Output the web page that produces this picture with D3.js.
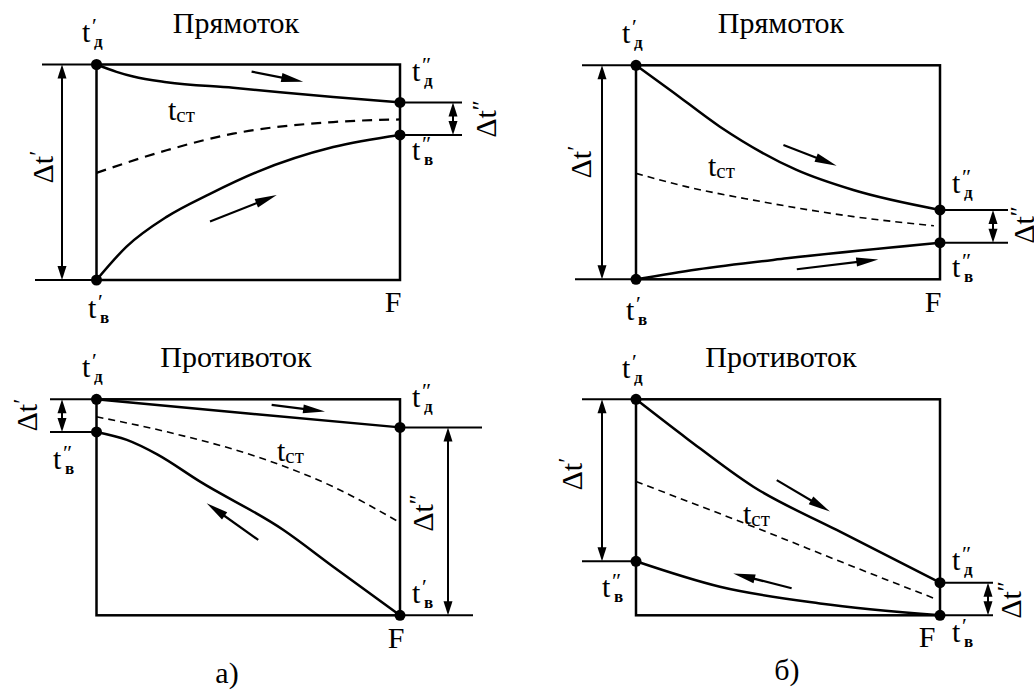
<!DOCTYPE html>
<html><head><meta charset="utf-8">
<script src="https://cdn.jsdelivr.net/npm/d3@7"></script>
</head><body>
<script>
// ---------- DATA (x = fraction of surface F, value = temperature on 0..100 scale) ----------
const panelIds = ["aTop", "bTop", "aBot", "bBot"];
const titles = ["Прямоток", "Прямоток", "Противоток", "Противоток"];
const captions = ["а)", "б)"];

// a) co-current
const aTopHotX  = [0, 0.066, 0.121, 0.231, 0.45, 0.78, 1];
const aTopHotV  = [100, 96.6, 94.4, 91.8, 89.2, 84.9, 82.4];
const aTopColdX = [0, 0.099, 0.231, 0.374, 0.528, 0.78, 1];
const aTopColdV = [0, 15.5, 29.3, 40, 50.1, 61.7, 67.3];
const aTopWallX = [0, 0.231, 0.45, 0.78, 1];
const aTopWallV = [49.7, 60.2, 67.9, 73.3, 74.5];
// б) co-current
const bTopHotX  = [0, 0.112, 0.276, 0.528, 0.715, 1];
const bTopHotV  = [100, 88.5, 71.3, 51.1, 41.7, 32.4];
const bTopColdX = [0, 0.2, 0.496, 1];
const bTopColdV = [0, 4.6, 9.8, 17.1];
const bTopWallX = [0, 0.165, 0.386, 0.715, 0.98];
const bTopWallV = [49.5, 43.3, 37, 29.3, 25];
// a) counter-current
const aBotHotX  = [0, 0.5, 1];
const aBotHotV  = [100, 93.4, 87];
const aBotColdX = [0, 0.1, 0.2, 0.34, 0.616, 0.78, 1];
const aBotColdV = [84.9, 81.2, 74.5, 62, 39.5, 22.5, 0];
const aBotWallX = [0, 0.23, 0.56, 0.78, 1];
const aBotWallV = [91.9, 85, 71.9, 59.5, 42.9];
// б) counter-current
const bBotHotX  = [0, 0.167, 0.386, 0.66, 1];
const bBotHotV  = [100, 81.9, 59.5, 39.5, 15.1];
const bBotColdX = [0, 0.276, 0.605, 1];
const bBotColdV = [25, 13.2, 5.5, 0];
const bBotWallX = [0, 0.386, 0.715, 0.98];
const bBotWallV = [61.9, 41, 22.5, 7.9];

const curves = {
  aTop: {hot:[aTopHotX,aTopHotV], cold:[aTopColdX,aTopColdV], wall:[aTopWallX,aTopWallV]},
  bTop: {hot:[bTopHotX,bTopHotV], cold:[bTopColdX,bTopColdV], wall:[bTopWallX,bTopWallV]},
  aBot: {hot:[aBotHotX,aBotHotV], cold:[aBotColdX,aBotColdV], wall:[aBotWallX,aBotWallV]},
  bBot: {hot:[bBotHotX,bBotHotV], cold:[bBotColdX,bBotColdV], wall:[bBotWallX,bBotWallV]}
};
// flow direction arrows [x0,v0,x1,v1]
const flowArrows = {
  aTop: [[0.511,96.7,0.681,92.0],[0.374,27.1,0.594,39.4]],
  bTop: [[0.485,62.8,0.66,53.1],[0.529,4.7,0.797,9.3]],
  aBot: [[0.577,97.4,0.753,94.3],[0.533,34.9,0.363,51.9]],
  bBot: [[0.463,62.6,0.638,48.0],[0.512,12.5,0.32,19.4]]
};

// ---------- LAYOUT ----------
const W = 1034, H = 691;
const FONT = "Liberation Serif";
const boxes = {
  aTop: {l:96.5, r:400, t:64.5, b:280},
  bTop: {l:636,  r:940, t:65.3, b:279.3},
  aBot: {l:96.5, r:400, t:399.3, b:615.3},
  bBot: {l:636,  r:940, t:399.3, b:615.3}
};

d3.select("body").style("margin", "0px").style("background", "#fff");
const svg = d3.select("body").append("svg").attr("width", W).attr("height", H).style("display", "block");
svg.append("rect").attr("width", W).attr("height", H).attr("fill", "#fff");

function txt(g, x, y, size) {
  return g.append("text").attr("x", x).attr("y", y).attr("font-family", FONT)
    .style("font-family", "'Liberation Serif'").attr("font-size", size);
}
function head(g, x1, y1, x0, y0, len, hw) {
  const a = Math.atan2(y1 - y0, x1 - x0);
  const bx = x1 - len * Math.cos(a), by = y1 - len * Math.sin(a);
  const px = -Math.sin(a) * hw, py = Math.cos(a) * hw;
  g.append("path").attr("d", `M${x1},${y1}L${bx+px},${by+py}L${bx-px},${by-py}Z`).attr("fill", "#000");
}
function dimArrow(g, x, y0, y1) {
  g.append("line").attr("x1", x).attr("x2", x).attr("y1", y0 + 4).attr("y2", y1 - 4)
    .attr("stroke", "#000").attr("stroke-width", 2);
  head(g, x, y0, x, y1, 14, 4.5);
  head(g, x, y1, x, y0, 14, 4.5);
}
function tLabel(g, x, y, prime, sub) {
  txt(g, x, y, 30).text("t");
  txt(g, x + 10, y - 9, 22).text(prime);
  txt(g, x + 12, y + 5, 17).attr("font-weight", "bold").text(sub);
}
function dtLabel(g, cx, cy, prime) {
  const t = txt(g, 0, 0, 30).attr("transform", `translate(${cx},${cy}) rotate(-90)`)
    .attr("text-anchor", "middle").attr("dy", "0.35em");
  t.append("tspan").text("Δt");
  t.append("tspan").attr("font-size", 24).attr("dy", "-0.3em").text(prime);
}
function tstLabel(g, x, y) {
  const t = txt(g, x, y, 30);
  t.append("tspan").text("t");
  t.append("tspan").attr("font-size", 21).attr("dy", 2).text("ст");
}

panelIds.forEach((id, i) => {
  const b = boxes[id];
  const g = svg.append("g");
  const x = d3.scaleLinear().domain([0, 1]).range([b.l, b.r]);
  const y = d3.scaleLinear().domain([0, 100]).range([b.b, b.t]);
  const c = curves[id];
  const line = d3.line().x(d => x(d[0])).y(d => y(d[1])).curve(d3.curveMonotoneX);
  const pts = k => c[k][0].map((v, j) => [v, c[k][1][j]]);

  g.append("rect").attr("x", b.l).attr("y", b.t).attr("width", b.r - b.l).attr("height", b.b - b.t)
    .attr("fill", "none").attr("stroke", "#000").attr("stroke-width", 2.5);

  const isA = id === "aTop";
  g.append("path").attr("d", line(pts("wall"))).attr("fill", "none").attr("stroke", "#000")
    .attr("stroke-width", isA ? 2.2 : 1.6).attr("stroke-dasharray", isA ? "10,7" : "7,5");
  ["hot", "cold"].forEach(k => {
    g.append("path").attr("d", line(pts(k))).attr("fill", "none").attr("stroke", "#000").attr("stroke-width", 2.5);
  });

  flowArrows[id].forEach(a => {
    const x0 = x(a[0]), y0 = y(a[1]), x1 = x(a[2]), y1 = y(a[3]);
    const ang = Math.atan2(y1 - y0, x1 - x0);
    g.append("line").attr("x1", x0).attr("y1", y0).attr("x2", x1 - 10 * Math.cos(ang)).attr("y2", y1 - 10 * Math.sin(ang))
      .attr("stroke", "#000").attr("stroke-width", 2.2);
    head(g, x1, y1, x0, y0, 22, 4.5);
  });

  const hot = pts("hot"), cold = pts("cold");
  const hS = hot[0][1], hE = hot[hot.length - 1][1], cS = cold[0][1], cE = cold[cold.length - 1][1];

  const ext = (v, x0, x1) => g.append("line").attr("x1", x0).attr("x2", x1).attr("y1", y(v)).attr("y2", y(v))
    .attr("stroke", "#000").attr("stroke-width", 2);
  if (id === "aTop") {
    ext(hS, 42, b.l); ext(cS, 35, b.l); dimArrow(g, 62, y(hS), y(cS));
    ext(hE, b.r, 462); ext(cE, b.r, 462); dimArrow(g, 453, y(hE), y(cE));
    dtLabel(g, 42, 167, "′"); dtLabel(g, 485, 119, "″");
  } else if (id === "bTop") {
    ext(hS, 582, b.l); ext(cS, 575, b.l); dimArrow(g, 602, y(hS), y(cS));
    ext(hE, b.r, 1008); ext(cE, b.r, 1008); dimArrow(g, 993, y(hE), y(cE));
    dtLabel(g, 580, 162, "′"); dtLabel(g, 1023, 225, "″");
  } else if (id === "aBot") {
    ext(hS, 50, b.l); ext(cS, 50, b.l); dimArrow(g, 62, y(hS), y(cS));
    ext(hE, b.r, 482); ext(cE, b.r, 473); dimArrow(g, 448, y(hE), y(cE));
    dtLabel(g, 26, 415, "′"); dtLabel(g, 422, 513, "″");
  } else {
    ext(hS, 582, b.l); ext(cS, 582, b.l); dimArrow(g, 602, y(hS), y(cS));
    ext(hE, b.r, 993); ext(cE, b.r, 993); dimArrow(g, 988, y(hE), y(cE));
    dtLabel(g, 571, 474, "′"); dtLabel(g, 1010, 600, "″");
  }

  [[0, hS], [1, hE], [0, cS], [1, cE]].forEach(p => {
    g.append("circle").attr("cx", x(p[0])).attr("cy", y(p[1])).attr("r", 5.5).attr("fill", "#000");
  });

  txt(g, id[0] === "a" ? 236 : 781, b.t - 32, 30).attr("text-anchor", "middle").text(titles[i]);
});

const gl = svg.append("g");
// a) top
tLabel(gl, 82, 42, "′", "д"); tLabel(gl, 412, 81, "″", "д"); tLabel(gl, 412, 160, "″", "в"); tLabel(gl, 88, 318, "′", "в");
tstLabel(gl, 168, 120);
// б) top
tLabel(gl, 622, 43, "′", "д"); tLabel(gl, 952, 193, "″", "д"); tLabel(gl, 952, 277, "″", "в"); tLabel(gl, 626, 320, "′", "в");
tstLabel(gl, 708, 176);
// a) bottom
tLabel(gl, 82, 377, "′", "д"); tLabel(gl, 412, 407, "″", "д"); tLabel(gl, 53, 469, "″", "в"); tLabel(gl, 412, 603, "′", "в");
tstLabel(gl, 277, 461);
// б) bottom
tLabel(gl, 622, 378, "′", "д"); tLabel(gl, 952, 570, "″", "д"); tLabel(gl, 602, 597, "″", "в"); tLabel(gl, 952, 642, "′", "в");
tstLabel(gl, 743, 524);
[[393, 312], [933, 312], [396, 648], [927, 647]].forEach(p =>
  txt(gl, p[0], p[1], 30).attr("text-anchor", "middle").text("F"));
txt(gl, 227, 683, 30).attr("text-anchor", "middle").text(captions[0]);
txt(gl, 787, 680, 30).attr("text-anchor", "middle").text(captions[1]);
</script>
</body></html>
